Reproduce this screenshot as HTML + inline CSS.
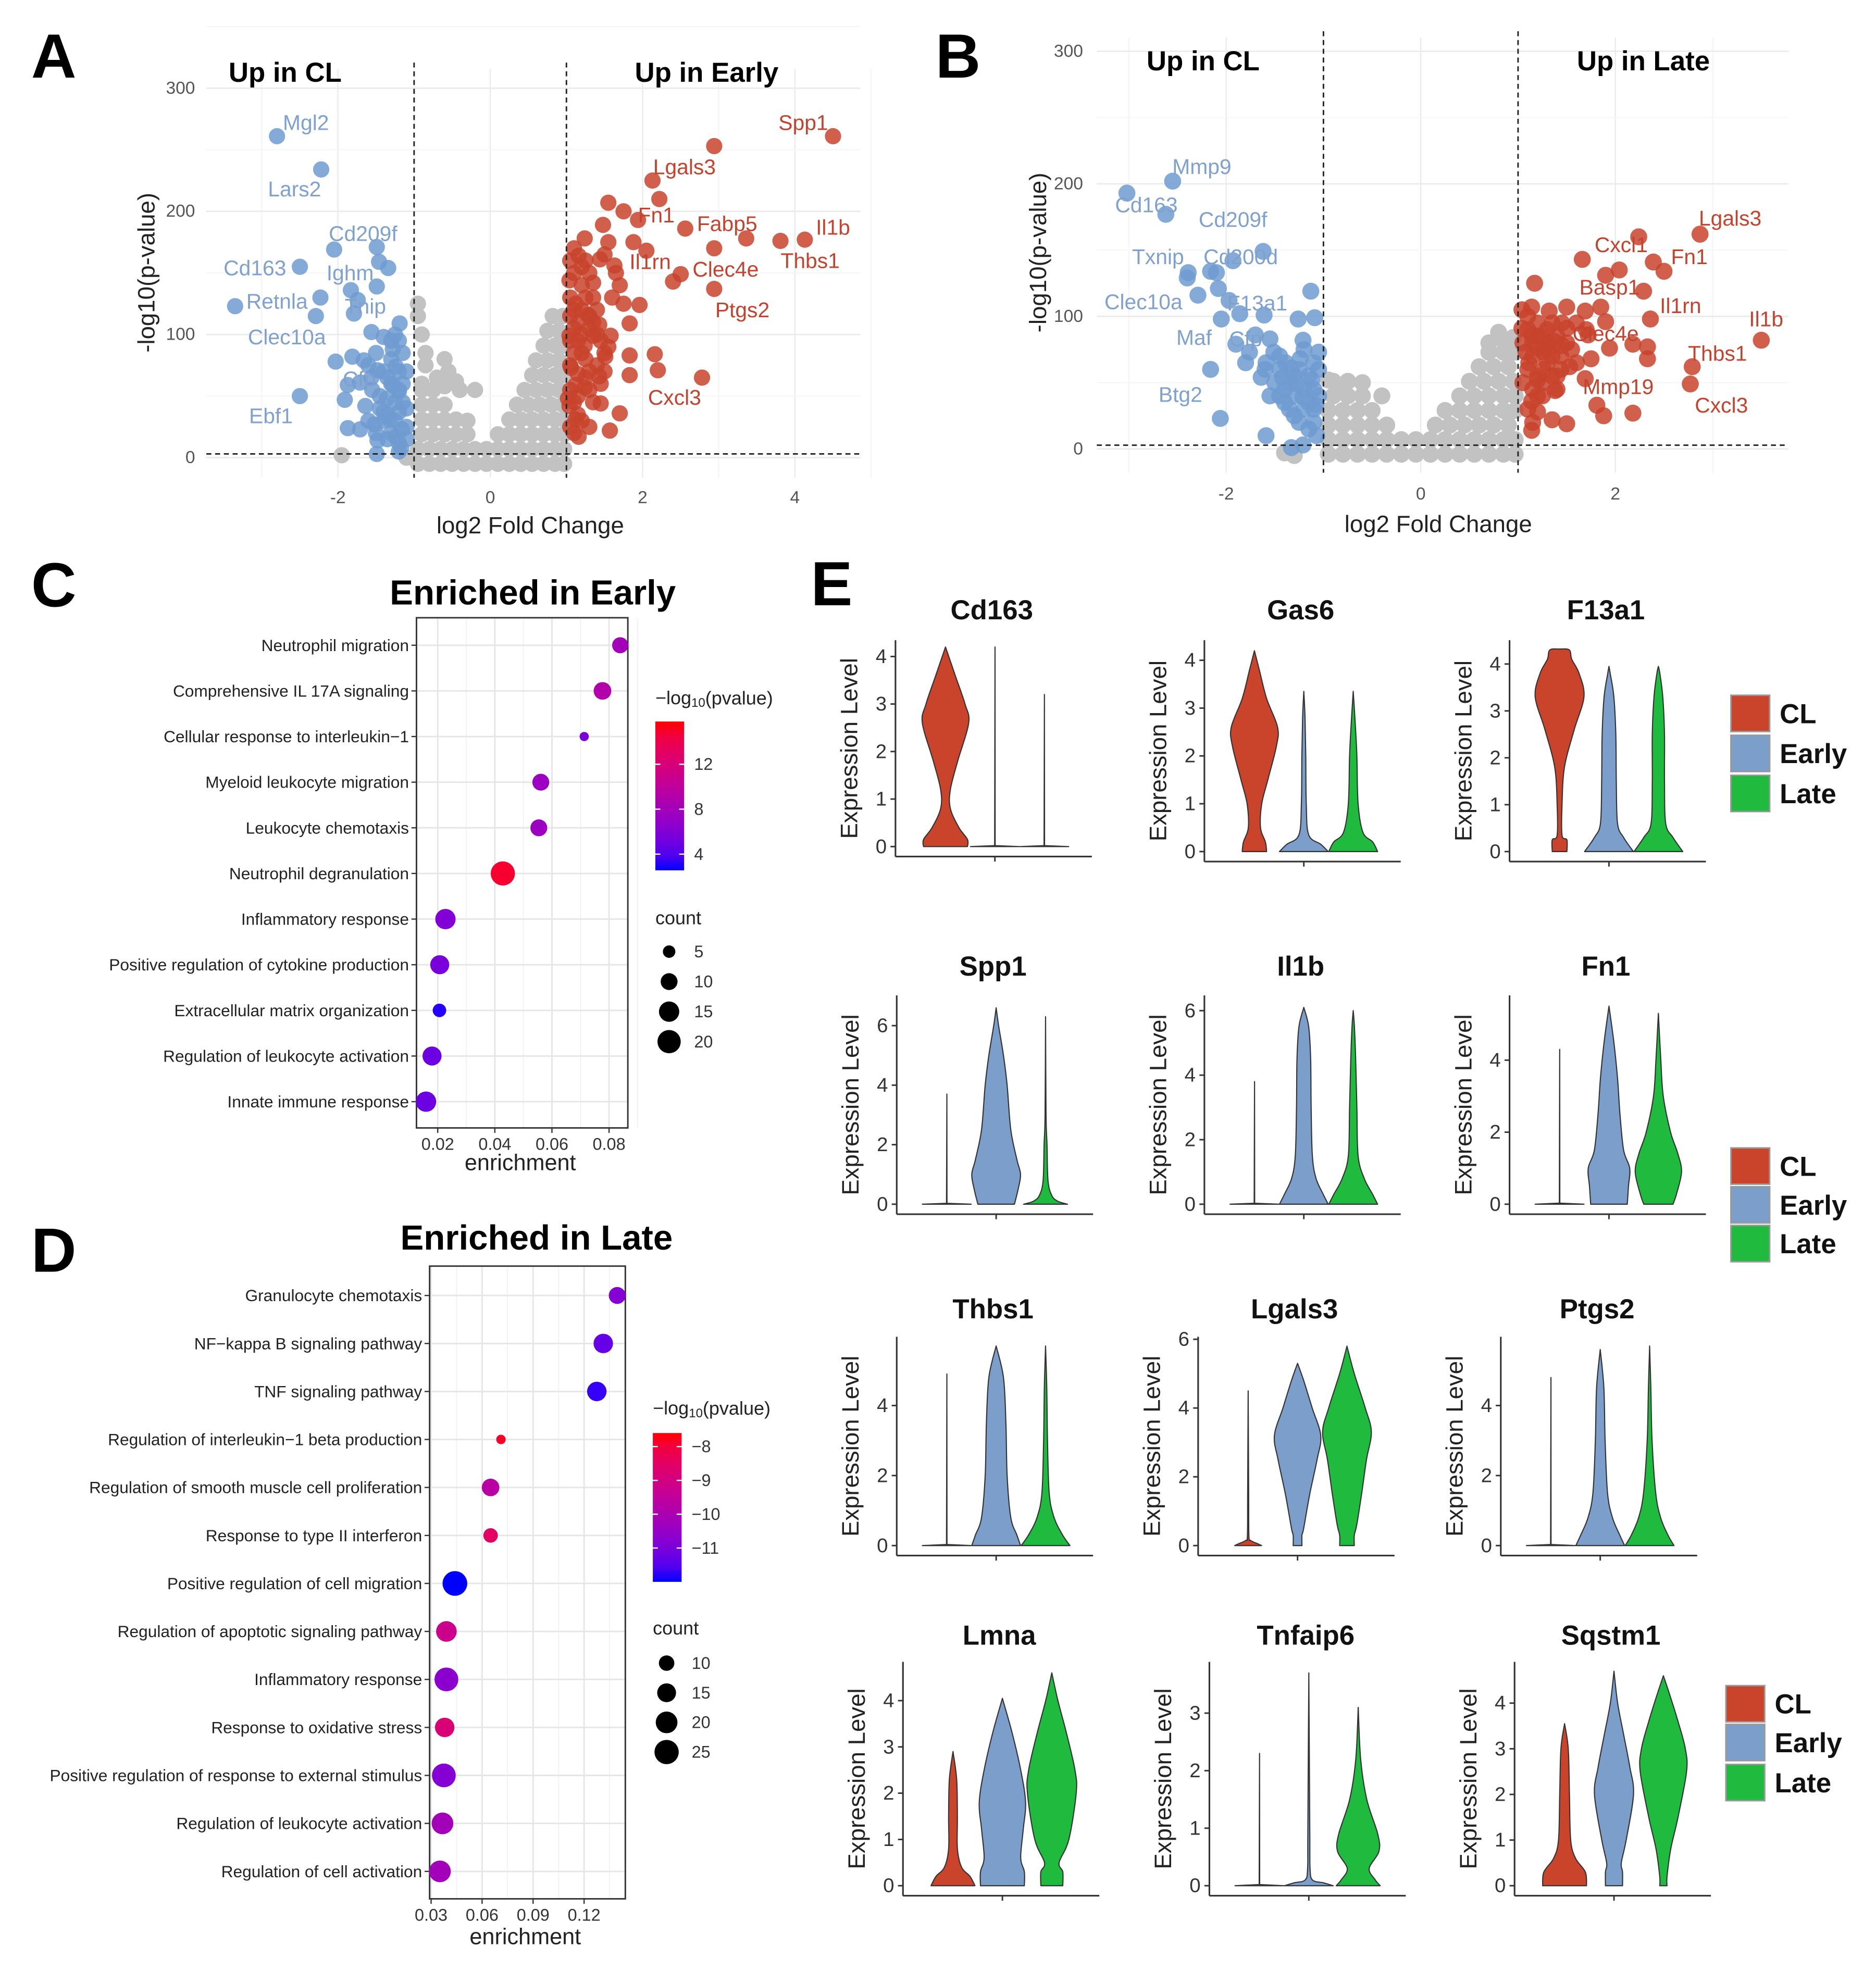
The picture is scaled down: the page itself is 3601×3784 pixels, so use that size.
<!DOCTYPE html>
<html><head><meta charset="utf-8"><title>Figure</title>
<style>html,body{margin:0;padding:0;background:#fff;}svg{display:block;font-family:"Liberation Sans",Arial,sans-serif;}</style>
</head><body>
<svg id="fig" xmlns="http://www.w3.org/2000/svg" width="3601" height="3784" viewBox="0 0 1500 1576.2">
<rect x="0" y="0" width="1500" height="1576.2" fill="#fff"/>
</svg>
<script>
// ---------- Panel A data ----------
const aBlueX=[-2.8,-2.22,-2.5,-3.35,-2.23,-2.29,-2.05,-1.49,-1.46,-1.34,-1.83,-1.74,-1.79,-1.49,-1.19,-1.56,-1.4,-1.28,-2.03,-1.81,-1.66,-1.48,-1.24,-1.87,-1.71,-1.56,-1.91,-1.64,-1.36,-1.2,-2.5,-1.87,-1.71,-1.48,-1.32,-1.24,-1.17,-1.49,-1.4,-1.28,-1.2,-1.16,-1.3,-1.52,-1.1,-1.15,-1.2,-1.25,-1.3,-1.35,-1.1,-1.2,-1.4,-1.45,-1.5,-1.3,-1.15,-1.2,-1.25,-1.3,-1.35,-1.4,-1.45,-1.5,-1.55,-1.6,-1.1,-1.15,-1.2,-1.25,-1.1,-1.2,-1.35,-1.6];
const aBlueY=[261,234,155,123,130,115,169,171,159,154,136,128,117,139,109,102,98,88,78,82,79,71,74,59,61,65,47,42,48,54,50,24,23,14,31,17,8,3,37,59,37,23,20,27,40,60,70,45,80,65,25,12,30,50,85,95,45,55,30,60,35,70,40,20,55,75,70,85,95,100,15,5,15,30];
const aRedX=[4.5,2.94,2.13,2.22,1.55,1.75,1.94,2.56,3.36,3.81,4.13,2.94,2.05,1.24,1.48,1.88,2.5,2.4,2.94,1.16,1.44,1.63,1.04,1.35,1.75,1.96,1.83,1.12,1.28,1.43,1.04,1.24,1.51,1.83,2.16,2.2,1.83,2.78,1.43,1.12,1.24,1.02,1.45,1.7,1.57,1.12,1.16,1.04,1.35,1.58,1.06,1.05,1.1,1.15,1.2,1.05,1.1,1.25,1.3,1.05,1.15,1.2,1.3,1.35,1.4,1.45,1.5,1.1,1.25,1.05,1.3,1.4,1.15,1.05,1.1,1.05,1.1,1.15,1.2,1.25,1.3,1.35,1.4,1.2,1.25,1.15,1.3,1.35,1.45,1.5,1.55,1.6,1.65,1.7,1.1,1.2,1.5,1.55,1.05,1.1,1.2,1.3];
const aRedY=[261,253,225,210,207,200,193,186,178,176,177,170,168,178,189,175,149,143,137,164,161,156,144,142,125,124,109,125,116,108,99,91,82,83,84,71,67,65,66,59,57,48,44,36,22,31,17,42,99,99,73,130,120,110,100,95,85,80,70,75,68,140,150,130,120,95,85,150,160,55,105,75,35,25,20,115,105,95,120,130,115,110,100,85,65,50,55,45,60,70,90,130,150,140,170,155,165,175,160,45,30,25];
const aGrayX=[-0.95,-0.95,-0.9,-0.85,-0.9,-0.7,-0.6,-0.4,-0.2,-1.95,-1.1,-0.3,-0.85,-0.6,-0.55,-0.45];
const aGrayY=[125,115,100,85,60,65,58,55,55,2,0,30,75,80,70,62];
const aGrayRowY=[-5,7,19,31,43,55,67,79,91,103,115];
const aGrayRowX=[[-0.95,-0.8,-0.65,-0.5,-0.35,-0.2,-0.05,0.1,0.25,0.4,0.55,0.7,0.85,0.97],[-0.95,-0.8,-0.65,-0.5,-0.35,-0.2,-0.05,0.1,0.25,0.4,0.55,0.7,0.85,0.97],[-0.9,-0.75,-0.6,-0.45,-0.3,0.1,0.25,0.4,0.55,0.7,0.85,0.97],[-0.9,-0.75,-0.6,-0.45,0.25,0.4,0.55,0.7,0.85,0.97],[-0.9,-0.75,-0.6,0.35,0.5,0.65,0.8,0.95],[-0.9,-0.75,0.45,0.6,0.75,0.9],[0.55,0.7,0.85,0.97],[0.6,0.75,0.9],[0.7,0.85,0.97],[0.75,0.9],[0.82,0.95]];
const aLabN=["Mgl2","Lars2","Cd209f","Cd163","Ighm","Retnla","Tnip","Clec10a","Cfp","Ebf1","Spp1","Lgals3","Fn1","Fabp5","Il1b","Thbs1","Clec4e","Il1rn","Ptgs2","Cxcl3"];
const aLabX=[-2.42,-2.57,-1.67,-3.09,-1.84,-2.8,-1.64,-2.67,-1.72,-2.88,4.11,2.55,2.18,3.11,4.5,4.2,3.09,2.1,3.31,2.42];
const aLabY=[272,218,182,154,150,127,123,98,64,34,272,236,197,190,187,160,153,159,120,49];
const aLabSide=["b","b","b","b","b","b","b","b","b","b","r","r","r","r","r","r","r","r","r","r"];
// ---------- Panel B data ----------
const bBlueX=[-2.55,-3.02,-2.62,-2.39,-2.4,-2.16,-2.1,-1.93,-1.62,-2.29,-2.08,-1.97,-1.13,-1.26,-1.09,-2.05,-1.86,-1.61,-1.9,-1.55,-1.21,-1.76,-1.59,-1.39,-1.05,-2.16,-1.64,-1.42,-1.27,-1.12,-1.45,-1.21,-1.08,-2.06,-1.59,-1.21,-1.07,-1.33,-1.33,-1.24,-1.51,-1.7,-1.8,-1.1,-1.15,-1.2,-1.25,-1.3,-1.35,-1.4,-1.45,-1.1,-1.15,-1.3,-1.05,-1.1,-1.2,-1.25,-1.3,-1.35,-1.4,-1.45,-1.5,-1.55,-1.6,-1.1,-1.2,-1.05,-1.15];
const bBlueY=[202,193,177,133,129,134,133,142,149,116,121,112,119,98,99,98,102,101,79,83,82,73,65,65,73,60,54,54,49,52,40,39,33,23,10,3,10,1,61,68,73,86,65,45,55,30,60,40,50,35,60,20,15,25,60,30,45,20,55,30,45,70,50,40,60,65,75,40,35];
const bRedX=[2.87,2.24,2.39,2.5,1.66,2.04,2.29,1.9,1.17,1.14,2.36,3.5,2.79,2.77,2.33,2.33,2.18,1.94,1.75,1.53,1.69,1.81,1.88,2.18,1.5,1.35,1.14,1.2,1.04,1.32,1.5,1.69,1.85,1.9,1.72,1.14,1.38,1.26,1.11,1.44,1.2,1.38,1.14,1.04,1.5,1.44,1.26,1.2,1.08,1.1,1.15,1.2,1.25,1.3,1.35,1.4,1.45,1.1,1.2,1.3,1.15,1.25,1.4,1.05,1.3,1.1,1.15,1.2,1.3,1.35,1.45,1.5,1.55,1.6,1.25,1.35,1.4,1.1,1.2,1.05,1.6,1.7,1.15];
const bRedY=[162,160,141,134,143,135,119,131,125,107,98,82,62,49,68,77,79,76,68,62,53,33,25,27,19,22,14,28,105,104,107,104,107,96,86,86,81,73,65,70,52,44,36,91,91,60,60,76,73,90,80,95,85,75,95,85,78,60,55,65,45,40,55,80,90,100,70,85,80,70,95,80,75,65,50,55,45,30,40,50,95,90,20];
const bGrayX=[-1.3,-1.4,-0.85,-0.6,-0.4,0.7,0.9,0.8,-0.95];
const bGrayY=[-5,-3,45,50,40,80,75,88,52];
const bGrayRowY=[-4,7,18,29,40,51,62,73,84];
const bGrayRowX=[[-0.95,-0.8,-0.65,-0.5,-0.35,-0.2,-0.05,0.1,0.25,0.4,0.55,0.7,0.85,0.97],[-0.95,-0.8,-0.65,-0.5,-0.35,-0.2,-0.05,0.1,0.25,0.4,0.55,0.7,0.85,0.97],[-0.95,-0.8,-0.65,-0.5,-0.35,0.15,0.3,0.45,0.6,0.75,0.9],[-0.95,-0.8,-0.65,-0.5,0.25,0.4,0.55,0.7,0.85,0.97],[-0.9,-0.75,-0.6,0.4,0.55,0.7,0.85,0.97],[-0.9,-0.75,0.5,0.65,0.8,0.95],[0.6,0.75,0.9],[0.7,0.85,0.97],[0.8,0.95]];
const bLabN=["Mmp9","Cd163","Cd209f","Txnip","Cd200d","Clec10a","F13a1","Maf","Cfp","Btg2","Lgals3","Cxcl1","Fn1","Basp1","Il1rn","Clec4e","Il1b","Thbs1","Mmp19","Cxcl3"];
const bLabX=[-2.25,-2.82,-1.93,-2.7,-1.85,-2.85,-1.68,-2.33,-1.8,-2.47,3.18,2.06,2.76,1.94,2.67,1.9,3.55,3.05,2.03,3.09];
const bLabY=[213,184,173,145,145,111,110,84,83,41,174,154,145,122,108,87,98,72,47,33];
const bLabSide=["b","b","b","b","b","b","b","b","b","b","r","r","r","r","r","r","r","r","r","r"];
const volXTicksA=[-2,0,2,4];
const volXTicksB=[-2,0,2];
const volYTicks=[0,100,200,300];
// ---------- Panel C data ----------
const cTerms=["Neutrophil migration","Comprehensive IL 17A signaling","Cellular response to interleukin\u22121","Myeloid leukocyte migration","Leukocyte chemotaxis","Neutrophil degranulation","Inflammatory response","Positive regulation of cytokine production","Extracellular matrix organization","Regulation of leukocyte activation","Innate immune response"];
const cEnrich=[0.0839,0.0777,0.0713,0.0561,0.0554,0.0428,0.0227,0.0207,0.0206,0.018,0.0159];
const cPval=[8,9,5.5,7.5,7.5,15,6,5.5,2.8,5,5];
const cCount=[9,11,2.2,10,10,21.6,15,13,6,13,15];
const cXTicks=[0.02,0.04,0.06,0.08];
const cXTickLabels=["0.02","0.04","0.06","0.08"];
const cColTicks=[4,8,12];
const cSizeTicks=[5,10,15,20];
// ---------- Panel D data ----------
const dTerms=["Granulocyte chemotaxis","NF\u2212kappa B signaling pathway","TNF signaling pathway","Regulation of interleukin\u22121 beta production","Regulation of smooth muscle cell proliferation","Response to type II interferon","Positive regulation of cell migration","Regulation of apoptotic signaling pathway","Inflammatory response","Response to oxidative stress","Positive regulation of response to external stimulus","Regulation of leukocyte activation","Regulation of cell activation"];
const dEnrich=[0.1395,0.1313,0.1275,0.0711,0.065,0.065,0.044,0.039,0.039,0.038,0.0375,0.0367,0.0352];
const dPval=[-10.8,-11.3,-11.8,-7.8,-9.7,-8.5,-12,-9.2,-10.7,-8.8,-10.8,-10.2,-10.2];
const dCount=[12,16,16,3.5,13,8.7,26,18,24,16,24,20,20];
const dXTicks=[0.03,0.06,0.09,0.12];
const dXTickLabels=["0.03","0.06","0.09","0.12"];
const dColTicks=[-8,-9,-10,-11];
const dColTickLabels=["\u22128","\u22129","\u221210","\u221211"];
const dSizeTicks=[10,15,20,25];
// ---------- Panel E data (value, relative half-width) ----------
const vGenes=["Cd163","Gas6","F13a1","Spp1","Il1b","Fn1","Thbs1","Lgals3","Ptgs2","Lmna","Tnfaip6","Sqstm1"];
const vTicks=[[0,1,2,3,4],[0,1,2,3,4],[0,1,2,3,4],[0,2,4,6],[0,2,4,6],[0,2,4],[0,2,4],[0,2,4,6],[0,2,4],[0,1,2,3,4],[0,1,2,3],[0,1,2,3,4]];
const cd163CL=[[0,0.9],[0.15,0.9],[0.4,0.55],[0.8,0.2],[1.2,0.2],[1.8,0.5],[2.6,0.95],[3.0,0.8],[3.6,0.4],[4.2,0]];
const cd163Early=[[0,1],[0.02,0.01],[4.2,0.005]];
const cd163Late=[[0,1],[0.02,0.01],[3.2,0.005]];
const gas6CL=[[0,0.5],[0.2,0.45],[0.5,0.25],[1.0,0.3],[1.5,0.55],[2.2,0.9],[2.6,0.95],[3.2,0.5],[3.8,0.2],[4.2,0]];
const gas6Early=[[0,1],[0.15,0.7],[0.35,0.2],[1,0.1],[2,0.08],[2.8,0.05],[3.35,0]];
const gas6Late=[[0,1],[0.2,0.8],[0.4,0.4],[1,0.2],[2,0.15],[2.7,0.08],[3.35,0]];
const f13a1CL=[[0,0.3],[0.25,0.3],[0.35,0.1],[1,0.1],[1.8,0.2],[2.6,0.6],[3.3,1.0],[3.8,0.8],[4.1,0.5],[4.3,0.4],[4.32,0]];
const f13a1Early=[[0,1],[0.3,0.6],[0.6,0.35],[1.5,0.3],[2.5,0.28],[3.3,0.2],[3.8,0.05],[3.95,0]];
const f13a1Late=[[0,1],[0.3,0.6],[0.6,0.3],[1.5,0.25],[2.5,0.25],[3.3,0.18],[3.8,0.06],[3.95,0]];
const spp1CL=[[0,1],[0.03,0.01],[3.7,0.005]];
const spp1Early=[[0,0.75],[0.5,0.9],[1.0,1.0],[1.5,0.85],[2.5,0.6],[4,0.45],[5,0.3],[6,0.1],[6.6,0]];
const spp1Late=[[0,0.9],[0.1,0.5],[0.3,0.25],[0.8,0.1],[2,0.06],[3,0.02],[6.3,0]];
const il1bCL=[[0,1],[0.03,0.01],[3.8,0.005]];
const il1bEarly=[[0,1],[0.3,0.8],[0.8,0.5],[1.5,0.35],[3,0.3],[4.5,0.28],[5.5,0.2],[6.1,0]];
const il1bLate=[[0,1],[0.3,0.8],[0.8,0.45],[1.5,0.2],[3,0.15],[4.5,0.1],[5.5,0.05],[6,0]];
const fn1CL=[[0,1],[0.03,0.01],[4.3,0.005]];
const fn1Early=[[0,0.75],[0.5,0.8],[1.0,0.85],[1.5,0.6],[2.5,0.45],[3.5,0.35],[4.5,0.2],[5.5,0]];
const fn1Late=[[0,0.6],[0.3,0.75],[0.9,0.95],[1.4,0.8],[2,0.5],[3,0.2],[4,0.1],[5.3,0]];
const thbs1CL=[[0,1],[0.03,0.01],[4.9,0.005]];
const thbs1Early=[[0,1],[0.3,0.85],[0.8,0.6],[2,0.45],[3.5,0.4],[4.8,0.3],[5.7,0]];
const thbs1Late=[[0,1],[0.3,0.7],[0.8,0.35],[1.5,0.15],[3,0.08],[4.5,0.05],[5.7,0]];
const lgals3CL=[[0,0.55],[0.05,0.4],[0.15,0.1],[0.3,0.03],[1.6,0.02],[4.5,0]];
const lgals3Early=[[0,0.18],[0.3,0.18],[0.5,0.25],[1.5,0.5],[2.5,0.8],[3.2,0.95],[4,0.6],[4.8,0.25],[5.3,0]];
const lgals3Late=[[0,0.3],[0.3,0.3],[0.6,0.4],[1.5,0.6],[2.5,0.8],[3.3,1.0],[4,0.75],[5,0.3],[5.8,0]];
const ptgs2CL=[[0,1],[0.03,0.01],[4.8,0.005]];
const ptgs2Early=[[0,1],[0.3,0.8],[0.8,0.5],[1.5,0.3],[3,0.2],[4.5,0.15],[5.6,0]];
const ptgs2Late=[[0,1],[0.3,0.75],[0.8,0.45],[1.5,0.25],[3,0.1],[4.5,0.05],[5.7,0]];
const lmnaCL=[[0,0.9],[0.2,0.7],[0.4,0.35],[0.8,0.18],[1.5,0.18],[2.3,0.15],[2.9,0]];
const lmnaEarly=[[0,0.9],[0.3,0.9],[0.6,0.75],[1.2,0.85],[1.8,0.95],[2.5,0.75],[3.3,0.4],[4.05,0]];
const lmnaLate=[[0,0.45],[0.3,0.45],[0.5,0.3],[1,0.7],[2,1.0],[2.5,0.95],[3.3,0.6],[4,0.25],[4.6,0]];
const tnfaip6CL=[[0,1],[0.02,0.01],[2.3,0.005]];
const tnfaip6Early=[[0,1],[0.05,0.6],[0.1,0.15],[0.3,0.05],[0.9,0.04],[3.7,0]];
const tnfaip6Late=[[0,0.9],[0.1,0.7],[0.3,0.45],[0.6,0.85],[0.9,0.8],[1.5,0.35],[2.2,0.1],[3.1,0]];
const sqstm1CL=[[0,0.9],[0.3,0.85],[0.6,0.45],[1.0,0.25],[2,0.2],[3,0.15],[3.55,0]];
const sqstm1Early=[[0,0.35],[0.3,0.35],[0.5,0.3],[1,0.5],[2,0.8],[2.6,0.65],[3.3,0.4],[4.0,0.15],[4.7,0]];
const sqstm1Late=[[0,0.15],[0.2,0.15],[0.8,0.3],[1.5,0.6],[2.5,0.95],[3,0.9],[3.6,0.6],[4.2,0.25],[4.6,0]];
const vGroups=["CL","Early","Late"];

// ---------- helpers ----------
const NS='http://www.w3.org/2000/svg';
const svg=document.getElementById('fig');
function mk(tag,parent){const e=document.createElementNS(NS,tag);parent.appendChild(e);return e;}
function set(e,o){for(const k in o)e.setAttribute(k,o[k]);return e;}
function txt(parent,x,y,s,size,anchor,fill,weight){const t=mk('text',parent);set(t,{x:x,y:y,'font-size':size,'text-anchor':anchor||'start',fill:fill||'#000','font-weight':weight||'normal','dominant-baseline':'central'});t.textContent=s;return t;}
function grp(parent){return mk('g',parent);}
function colorAt(t){t=Math.max(0,Math.min(1,t));const r=Math.round(255*Math.pow(t,0.5));const b=Math.round(255*Math.pow(1-t,0.6));return 'rgb('+r+',0,'+b+')';}
function flattenRows(rx,ry,xs,ys){const X=xs.slice(),Y=ys.slice();rx.forEach(function(row,i){row.forEach(function(x){X.push(x);Y.push(ry[i]);});});return [X,Y];}

// ---------- panel letters ----------
[["A",43,45],["B",766,45],["C",43,468],["D",43,1000],["E",665,467]].forEach(function(p){
  const t=txt(svg,p[1],p[2],p[0],50,'middle','#000','bold');
  
  
});

// ---------- volcano ----------
function volcano(id,cfg,gx,gy,bx,by,rx,ry,ln,lx,ly,ls,xticks){
  const g=grp(svg);
  
  
  const sx=v=>cfg.x0+cfg.kx*v, sy=v=>cfg.y0-cfg.ky*v;
  for(let v=cfg.xmin;v<=cfg.xmax;v+=1){const l=mk('line',g);set(l,{x1:sx(v),x2:sx(v),y1:cfg.top,y2:cfg.bottom,stroke:(v%2===0)?'#ebebeb':'#f5f5f5','stroke-width':1});
    
    }
  volYTicks.forEach(function(v){const l=mk('line',g);set(l,{x1:cfg.left,x2:cfg.right,y1:sy(v),y2:sy(v),stroke:'#ebebeb','stroke-width':1.2});
    
    
    const l2=mk('line',g);set(l2,{x1:cfg.left,x2:cfg.right,y1:sy(v+50),y2:sy(v+50),stroke:'#f5f5f5','stroke-width':0.8});
    
    });
  function pts(xs,ys,fill,op,name){const n=Math.min(xs.length,ys.length);for(let i=0;i<n;i++){const c=mk('circle',g);set(c,{cx:sx(xs[i]),cy:sy(ys[i]),r:cfg.r,fill:fill,'fill-opacity':op});
      
      }}
  pts(gx,gy,'#c2c2c2',1,'gene-point-ns');
  pts(bx,by,'#6f9bd1',0.85,'gene-point-down');
  pts(rx,ry,'#c8432b',0.85,'gene-point-up');
  for(let i=0;i<ln.length;i++){const t=txt(g,sx(lx[i]),sy(ly[i]),ln[i],17,'middle',ls[i]==='b'?'#7fa1cf':'#c4432e');
    
    }
  [-1,1].forEach(function(v){const l=mk('line',g);set(l,{x1:sx(v),x2:sx(v),y1:cfg.top-5,y2:cfg.bottom,stroke:'#222','stroke-width':1.2,'stroke-dasharray':'4,3'});
    
    });
  const h=mk('line',g);set(h,{x1:cfg.left,x2:cfg.right,y1:sy(0)-3,y2:sy(0)-3,stroke:'#222','stroke-width':1.2,'stroke-dasharray':'4,3'});
  
  
  xticks.forEach(function(v){const t=txt(g,sx(v),cfg.xlabY,String(v),14,'middle','#555');
    
    });
  volYTicks.forEach(function(v){const t=txt(g,cfg.ylabX,sy(v),String(v),14,'end','#555');
    
    });
  const xt=txt(g,cfg.xTitleX,cfg.xTitleY,'log2 Fold Change',19,'middle','#222');
  
  
  const yt=txt(g,0,0,'-log10(p-value)',19,'middle','#222');
  yt.setAttribute('transform','translate('+cfg.yTitleX+','+cfg.yTitleY+') rotate(-90)');
  
  
  const t1=txt(g,cfg.t1x,cfg.ty,'Up in CL',22,'middle','#000','bold');
  
  
  const t2=txt(g,cfg.t2x,cfg.ty,cfg.t2,22,'middle','#000','bold');
  
  
}
const aGray=flattenRows(aGrayRowX,aGrayRowY,aGrayX,aGrayY);
const bGray=flattenRows(bGrayRowX,bGrayRowY,bGrayX,bGrayY);
volcano('volcano-early',{x0:392,kx:60.9,y0:366,ky:0.985,xmin:-3,xmax:5,left:165,right:688,top:55,bottom:382,r:6.5,xlabY:398,ylabX:156,xTitleX:424,xTitleY:420,yTitleX:117,yTitleY:218,t1x:228,t2x:565,ty:58,t2:'Up in Early'},aGray[0],aGray[1],aBlueX,aBlueY,aRedX,aRedY,aLabN,aLabX,aLabY,aLabSide,volXTicksA);
volcano('volcano-late',{x0:1136,kx:77.8,y0:359,ky:1.06,xmin:-3,xmax:3,left:877,right:1430,top:30,bottom:378,r:6.8,xlabY:395,ylabX:866,xTitleX:1150,xTitleY:419,yTitleX:830,yTitleY:202,t1x:962,t2x:1314,ty:49,t2:'Up in Late'},bGray[0],bGray[1],bBlueX,bBlueY,bRedX,bRedY,bLabN,bLabX,bLabY,bLabSide,volXTicksB);

// ---------- dot plots ----------
function dotplot(id,cfg,terms,enr,pv,cnt,xt,xtl,ct,ctl,st){
  const g=grp(svg);
  
  
  const sx=v=>cfg.x0+(v-cfg.v0)*cfg.kx;
  const rowY=i=>cfg.rowTop+i*cfg.rowStep;
  const rad=c=>Math.sqrt(cfg.ra+cfg.rb*c);
  const col=v=>colorAt((v-cfg.cmin)/(cfg.cmax-cfg.cmin));
  xt.forEach(function(v,i){const l=mk('line',g);set(l,{x1:sx(v),x2:sx(v),y1:cfg.top,y2:cfg.bottom,stroke:'#e6e6e6','stroke-width':1.2});
    
    
    const m=mk('line',g);const mv=v+(xt[1]-xt[0])/2;set(m,{x1:sx(mv),x2:sx(mv),y1:cfg.top,y2:cfg.bottom,stroke:'#f2f2f2','stroke-width':0.8});
    
    
    const tk=mk('line',g);set(tk,{x1:sx(v),x2:sx(v),y1:cfg.bottom,y2:cfg.bottom+4,stroke:'#333','stroke-width':1});
    
    
    const t=txt(g,sx(v),cfg.bottom+13,xtl[i],13.5,'middle','#333');
    
    });
  terms.forEach(function(s,i){const l=mk('line',g);set(l,{x1:cfg.left,x2:cfg.right,y1:rowY(i),y2:rowY(i),stroke:'#e6e6e6','stroke-width':1.2});
    
    
    const tk=mk('line',g);set(tk,{x1:cfg.left-4,x2:cfg.left,y1:rowY(i),y2:rowY(i),stroke:'#333','stroke-width':1});
    
    
    const t=txt(g,cfg.left-6,rowY(i),s,13.2,'end','#222');
    
    });
  const box=mk('rect',g);set(box,{x:cfg.left,y:cfg.top,width:cfg.right-cfg.left,height:cfg.bottom-cfg.top,fill:'none',stroke:'#333','stroke-width':1.2});
  
  
  terms.forEach(function(s,i){const c=mk('circle',g);set(c,{cx:sx(enr[i]),cy:rowY(i),r:rad(cnt[i]),fill:col(pv[i])});
    
    });
  const ti=txt(g,cfg.titleX,cfg.titleY,cfg.title,28,'middle','#000','bold');
  
  
  const xtit=txt(g,cfg.xTitleX,cfg.xTitleY,'enrichment',18,'middle','#222');
  
  
  const lt=mk('text',g);set(lt,{x:cfg.legX,y:cfg.legTitleY,'font-size':15,fill:'#222','dominant-baseline':'central'});
  lt.appendChild(document.createTextNode('\u2212log'));
  const sub=mk('tspan',lt);set(sub,{'font-size':10,dy:4});sub.textContent='10';
  const rest=mk('tspan',lt);set(rest,{dy:-4});rest.textContent='(pvalue)';
  
  
  const defs=mk('defs',g);const lg=mk('linearGradient',defs);set(lg,{id:id+'-grad',x1:0,y1:1,x2:0,y2:0});
  for(let k=0;k<=10;k++){const s=mk('stop',lg);set(s,{offset:(k/10),'stop-color':colorAt(k/10)});}
  const bar=mk('rect',g);set(bar,{x:cfg.legX,y:cfg.barTop,width:23,height:cfg.barBot-cfg.barTop,fill:'url(#'+id+'-grad)'});
  
  
  const by=v=>cfg.barBot-(v-cfg.cmin)/(cfg.cmax-cfg.cmin)*(cfg.barBot-cfg.barTop);
  ct.forEach(function(v,i){
    const a=mk('line',g);set(a,{x1:cfg.legX,x2:cfg.legX+4,y1:by(v),y2:by(v),stroke:'#fff','stroke-width':1});
    
    
    const b=mk('line',g);set(b,{x1:cfg.legX+19,x2:cfg.legX+23,y1:by(v),y2:by(v),stroke:'#fff','stroke-width':1});
    
    
    const t=txt(g,cfg.legX+31,by(v),ctl[i],13.5,'start','#333');
    
    });
  const ctit=txt(g,cfg.legX,cfg.cntTitleY,'count',15,'start','#222');
  
  
  st.forEach(function(v,i){const y=cfg.cntTop+i*cfg.cntStep;
    const c=mk('circle',g);set(c,{cx:cfg.legX+11,cy:y,r:rad(v),fill:'#000'});
    
    
    const t=txt(g,cfg.legX+31,y,String(v),13.5,'start','#333');
    
    });
}
dotplot('dotplot-early',{x0:350,v0:0.02,kx:2283,left:333,right:502,top:494,bottom:902,rowTop:516,rowStep:36.5,ra:4.5,rb:4.1,cmin:2.56,cmax:15.8,title:'Enriched in Early',titleX:426,titleY:474,xTitleX:416,xTitleY:930,legX:524,legTitleY:558,barTop:577,barBot:696,cntTitleY:734,cntTop:761,cntStep:24},cTerms,cEnrich,cPval,cCount,cXTicks,cXTickLabels,cColTicks,cColTicks.map(String),cSizeTicks);
dotplot('dotplot-late',{x0:344.7,v0:0.03,kx:1359,left:343.5,right:500,top:1012.5,bottom:1518.5,rowTop:1036,rowStep:38.38,ra:1.3,rb:3.7,cmin:-12.0,cmax:-7.6,title:'Enriched in Late',titleX:429,titleY:990,xTitleX:420,xTitleY:1549,legX:522,legTitleY:1126,barTop:1146,barBot:1265,cntTitleY:1302,cntTop:1330,cntStep:23.7},dTerms,dEnrich,dPval,dCount,dXTicks,dXTickLabels,dColTicks,dColTickLabels,dSizeTicks);

// ---------- violins ----------
const vProfiles=[[cd163CL,cd163Early,cd163Late],[gas6CL,gas6Early,gas6Late],[f13a1CL,f13a1Early,f13a1Late],[spp1CL,spp1Early,spp1Late],[il1bCL,il1bEarly,il1bLate],[fn1CL,fn1Early,fn1Late],[thbs1CL,thbs1Early,thbs1Late],[lgals3CL,lgals3Early,lgals3Late],[ptgs2CL,ptgs2Early,ptgs2Late],[lmnaCL,lmnaEarly,lmnaLate],[tnfaip6CL,tnfaip6Early,tnfaip6Late],[sqstm1CL,sqstm1Early,sqstm1Late]];
const vAxisXLayout=[716,963,1207,717,963,1207,717,958,1200,722,967,1211];
const vZeroLayout=[677,681,681,963,963,963,1236,1236,1236,1508,1508,1508];
const vScaleLayout=[38,38.25,37.5,23.8,25.8,28.8,28,27.5,28,37,46,36.5];
const vTopLayout=[512,512,512,796,796,796,1069,1069,1069,1329,1329,1329];
const vTitleLayout=[488,488,488,773,773,773,1047,1047,1047,1308,1308,1308];
const vFill=['#c9442b','#7b9ecb','#1fbb3f'];
// Catmull-Rom smoothing (control points clamped to the baseline), or straight segments for short profiles
function smoothSeg(P,yMax,straight){let d='';for(let i=0;i<P.length-1;i++){
  if(straight){d+=' L'+P[i+1][0].toFixed(2)+','+P[i+1][1].toFixed(2);continue;}
  const p0=P[Math.max(0,i-1)],p1=P[i],p2=P[i+1],p3=P[Math.min(P.length-1,i+2)];
  const c1=[p1[0]+(p2[0]-p0[0])/6,Math.min(yMax,p1[1]+(p2[1]-p0[1])/6)],c2=[p2[0]-(p3[0]-p1[0])/6,Math.min(yMax,p2[1]-(p3[1]-p1[1])/6)];
  d+=' C'+c1[0].toFixed(2)+','+c1[1].toFixed(2)+' '+c2[0].toFixed(2)+','+c2[1].toFixed(2)+' '+p2[0].toFixed(2)+','+p2[1].toFixed(2);}return d;}
vGenes.forEach(function(gene,gi){
  const g=grp(svg);
  
  
  const ax=vAxisXLayout[gi], z=vZeroLayout[gi], k=vScaleLayout[gi], top=vTopLayout[gi];
  const sy=v=>z-v*k;
  const hw=19.5;
  vProfiles[gi].forEach(function(prof,j){
    const cx=ax+40+j*39.5;
    const straight=prof.length<4;
    const right=prof.map(p=>[cx+p[1]*hw,sy(p[0])]);
    const left=prof.map(p=>[cx-p[1]*hw,sy(p[0])]).reverse();
    let d='M'+right[0][0].toFixed(2)+','+right[0][1].toFixed(2)+smoothSeg(right,z,straight)+smoothSeg(left,z,straight)+' Z';
    const path=mk('path',g);set(path,{d:d,fill:vFill[j],stroke:'#333','stroke-width':0.9,'stroke-linejoin':'round'});
    
    
  });
  const ya=mk('line',g);set(ya,{x1:ax,x2:ax,y1:top,y2:z+8,stroke:'#333','stroke-width':1.3});
  
  
  const xa=mk('line',g);set(xa,{x1:ax,x2:ax+157,y1:z+8,y2:z+8,stroke:'#333','stroke-width':1.3});
  
  
  const xtk=mk('line',g);set(xtk,{x1:ax+79.5,x2:ax+79.5,y1:z+8,y2:z+12,stroke:'#333','stroke-width':1.2});
  
  
  vTicks[gi].forEach(function(v){
    const tk=mk('line',g);set(tk,{x1:ax-4,x2:ax,y1:sy(v),y2:sy(v),stroke:'#333','stroke-width':1.2});
    
    
    const t=txt(g,ax-7,sy(v),String(v),16,'end','#333');
    
    
  });
  const yt=txt(g,0,0,'Expression Level',19,'middle','#222');
  yt.setAttribute('transform','translate('+(ax-37)+','+((top+z+8)/2)+') rotate(-90)');
  
  
  const ti=txt(g,ax+77,vTitleLayout[gi],gene,22,'middle','#111','bold');
  
  
});
const vLegendTops=[[556,588,620],[918,949,980],[1348,1379,1411]];
const vLegendX=[1384,1384,1380];
vLegendTops.forEach(function(tops,li){
  const g=grp(svg);
  
  
  tops.forEach(function(y,j){
    const r=mk('rect',g);set(r,{x:vLegendX[li],y:y,width:31,height:29,fill:vFill[j],stroke:'#999','stroke-width':1.2});
    
    
    const t=txt(g,vLegendX[li]+39,y+15,vGroups[j],22,'start','#111','bold');
    
    
  });
});
</script>
</body></html>
